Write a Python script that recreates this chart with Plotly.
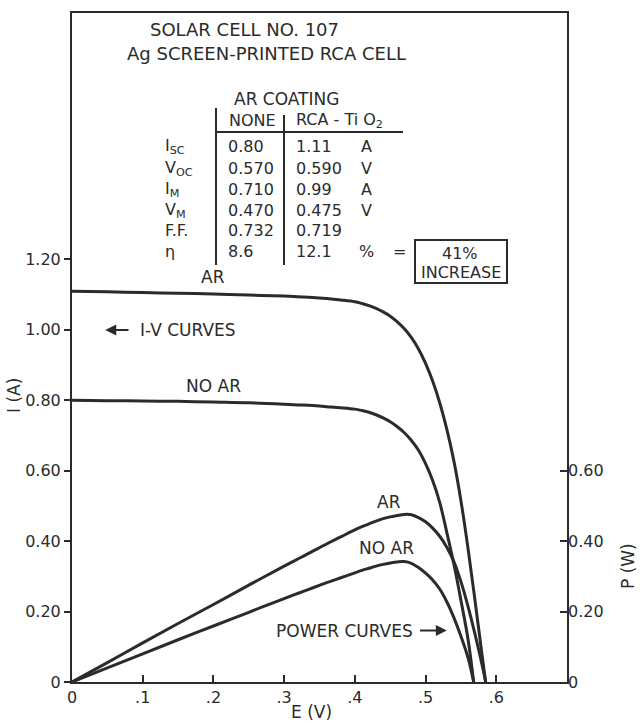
import plotly.graph_objects as go

# ---- I-V characteristics (volts, amperes) ----
v_iv_ar = [0.00, 0.05, 0.10, 0.15, 0.20, 0.25, 0.30, 0.32, 0.34, 0.36, 0.38, 0.40,
           0.41, 0.42, 0.43, 0.44, 0.45, 0.46, 0.47, 0.48, 0.49, 0.50,
           0.51, 0.52, 0.53, 0.54, 0.55, 0.56, 0.57, 0.58, 0.585]
i_iv_ar = [1.110, 1.108, 1.106, 1.104, 1.102, 1.099, 1.096, 1.094, 1.092, 1.089, 1.085, 1.080,
           1.075, 1.069, 1.061, 1.051, 1.039, 1.023, 1.003, 0.978, 0.946, 0.905,
           0.855, 0.793, 0.718, 0.628, 0.515, 0.380, 0.230, 0.075, 0.000]

v_iv_noar = [0.00, 0.05, 0.10, 0.15, 0.20, 0.25, 0.30, 0.32, 0.34, 0.36, 0.38, 0.40,
             0.41, 0.42, 0.43, 0.44, 0.45, 0.46, 0.47, 0.48, 0.49, 0.50,
             0.51, 0.52, 0.53, 0.54, 0.55, 0.56, 0.568]
i_iv_noar = [0.800, 0.799, 0.798, 0.797, 0.795, 0.793, 0.789, 0.787, 0.785, 0.782, 0.779, 0.775,
             0.771, 0.766, 0.759, 0.750, 0.739, 0.725, 0.708, 0.686, 0.658, 0.620,
             0.572, 0.510, 0.425, 0.335, 0.232, 0.122, 0.000]

# ---- Power curves (volts, watts) ----
v_p_ar = [0.00, 0.05, 0.10, 0.15, 0.20, 0.25, 0.30, 0.32, 0.34, 0.36, 0.38, 0.40,
          0.41, 0.42, 0.43, 0.44, 0.45, 0.46, 0.47, 0.48, 0.49, 0.50,
          0.51, 0.52, 0.53, 0.54, 0.55, 0.56, 0.57, 0.58, 0.585]
p_ar = [0.000, 0.055, 0.111, 0.166, 0.220, 0.275, 0.329, 0.350, 0.371, 0.392, 0.412, 0.432,
        0.441, 0.449, 0.457, 0.464, 0.469, 0.473, 0.476, 0.475, 0.467, 0.455,
        0.437, 0.414, 0.383, 0.342, 0.285, 0.215, 0.135, 0.048, 0.000]

v_p_noar = [0.00, 0.05, 0.10, 0.15, 0.20, 0.25, 0.30, 0.32, 0.34, 0.36, 0.38, 0.40,
            0.41, 0.42, 0.43, 0.44, 0.45, 0.46, 0.47, 0.48, 0.49, 0.50,
            0.51, 0.52, 0.53, 0.54, 0.55, 0.56, 0.568]
p_noar = [0.000, 0.040, 0.080, 0.120, 0.159, 0.198, 0.237, 0.252, 0.267, 0.282, 0.296, 0.310,
          0.317, 0.323, 0.329, 0.334, 0.338, 0.341, 0.342, 0.337, 0.325, 0.309,
          0.290, 0.264, 0.228, 0.183, 0.130, 0.069, 0.000]

# ---- Axis ticks ----
x_ticks = [0, 0.1, 0.2, 0.3, 0.4, 0.5, 0.6]
x_tick_text = ["0", ".1", ".2", ".3", ".4", ".5", ".6"]
i_ticks = [0, 0.2, 0.4, 0.6, 0.8, 1.0, 1.2]
i_tick_text = ["0", "0.20", "0.40", "0.60", "0.80", "1.00", "1.20"]
p_ticks = [0, 0.2, 0.4, 0.6]
p_tick_text = ["0", "0.20", "0.40", "0.60"]

# ---- Cell data table ----
row_labels = ["I<sub>SC</sub>", "V<sub>OC</sub>", "I<sub>M</sub>", "V<sub>M</sub>", "F.F.", "η"]
col_none = ["0.80", "0.570", "0.710", "0.470", "0.732", "8.6"]
col_tio2 = ["1.11", "0.590", "0.99", "0.475", "0.719", "12.1"]
units = ["A", "V", "A", "V", "", "%"]

W, H = 640, 724
ML, MR, MT, MB = 72, 73, 13, 42
INK = "#2b2b2b"
FONT = "DejaVu Sans"


def px(x):
    return (x - ML) / (W - ML - MR)


def py(y):
    return (H - MB - y) / (H - MT - MB)


fig = go.Figure()
line_style = dict(color=INK, width=3, shape="spline", smoothing=1.0)
fig.add_trace(go.Scatter(x=v_iv_ar, y=i_iv_ar, mode="lines", line=line_style, hoverinfo="skip"))
fig.add_trace(go.Scatter(x=v_iv_noar, y=i_iv_noar, mode="lines", line=line_style, hoverinfo="skip"))
fig.add_trace(go.Scatter(x=v_p_ar, y=p_ar, mode="lines", line=line_style, yaxis="y2", hoverinfo="skip"))
fig.add_trace(go.Scatter(x=v_p_noar, y=p_noar, mode="lines", line=line_style, yaxis="y2", hoverinfo="skip"))

ann = []


def text(x, y, s, size=16, xanchor="center", xref="paper", yref="paper", angle=0):
    ann.append(dict(x=x, y=y, xref=xref, yref=yref, text=s, showarrow=False,
                    xanchor=xanchor, yanchor="middle", textangle=angle,
                    font=dict(family=FONT, size=size, color=INK)))


# headings
text(px(244), py(29), "SOLAR CELL NO. 107", size=18)
text(px(266), py(54), "Ag SCREEN-PRINTED RCA CELL", size=18)
text(px(286), py(99), "AR COATING", size=17)
text(px(227), py(120), "NONE", xanchor="left")
text(px(294), py(120), "RCA - Ti O<sub>2</sub>", xanchor="left")

row_y = [147, 168, 189, 210, 231, 252]
for k, yy in enumerate(row_y):
    text(px(163), py(yy), row_labels[k], xanchor="left")
    text(px(226), py(yy), col_none[k], xanchor="left")
    text(px(294), py(yy), col_tio2[k], xanchor="left")
    if units[k]:
        text(px(366), py(yy), units[k])
text(px(399), py(252), "=")
text(px(460), py(253), "41%")
text(px(461), py(272), "INCREASE")

# curve labels
text(0.200, 1.149, "AR", size=17, xref="x", yref="y")
text(0.200, 0.841, "NO AR", size=17, xref="x", yref="y")
text(0.093, 1.000, "I-V CURVES", size=17, xanchor="left", xref="x", yref="y")
text(0.448, 0.512, "AR", size=17, xref="x", yref="y")
text(0.445, 0.382, "NO AR", size=17, xref="x", yref="y")
text(0.385, 0.146, "POWER CURVES", size=17, xref="x", yref="y")

# arrows
for head, tail, yy in [(0.047, 0.082, 1.000), (0.530, 0.490, 0.146)]:
    ann.append(dict(x=head, y=yy, ax=tail, ay=yy, xref="x", yref="y", axref="x", ayref="y",
                    text="", showarrow=True, arrowhead=2, arrowsize=1.1, arrowwidth=2,
                    arrowcolor=INK))

# axis titles
text(px(311), py(712), "E (V)", size=17)
text(px(14), py(396), "I (A)", size=17, angle=-90)
text(px(628), py(566), "P (W)", size=17, angle=-90)

shapes = [
    dict(type="line", xref="paper", yref="paper", x0=px(216), x1=px(216), y0=py(108), y1=py(265),
         line=dict(color=INK, width=2)),
    dict(type="line", xref="paper", yref="paper", x0=px(284), x1=px(284), y0=py(115), y1=py(265),
         line=dict(color=INK, width=2)),
    dict(type="line", xref="paper", yref="paper", x0=px(216), x1=px(403), y0=py(132), y1=py(132),
         line=dict(color=INK, width=2)),
    dict(type="rect", xref="paper", yref="paper", x0=px(415), x1=px(507), y0=py(240), y1=py(283),
         line=dict(color=INK, width=2)),
]

tick_font = dict(family=FONT, size=16, color=INK)
fig.update_layout(
    width=W, height=H,
    margin=dict(l=ML, r=MR, t=MT, b=MB, pad=0),
    paper_bgcolor="white", plot_bgcolor="white",
    showlegend=False,
    annotations=ann, shapes=shapes,
    xaxis=dict(range=[0, 0.7], tickvals=x_ticks, ticktext=x_tick_text, ticks="inside",
               ticklen=7, tickwidth=2, tickcolor=INK, showline=True, linecolor=INK, linewidth=2,
               mirror=True, showgrid=False, zeroline=False, tickfont=tick_font),
    yaxis=dict(range=[0, 1.9], tickvals=i_ticks, ticktext=i_tick_text, ticks="outside",
               ticklen=6, tickwidth=2, tickcolor=INK, showline=True, linecolor=INK, linewidth=2,
               mirror=True, showgrid=False, zeroline=False, tickfont=tick_font),
    yaxis2=dict(range=[0, 1.9], overlaying="y", side="right", tickvals=p_ticks,
                ticktext=p_tick_text, ticks="inside", ticklen=7, tickwidth=2, tickcolor=INK,
                showline=False, showgrid=False, zeroline=False, tickfont=tick_font),
)

fig.write_html("out.html")
